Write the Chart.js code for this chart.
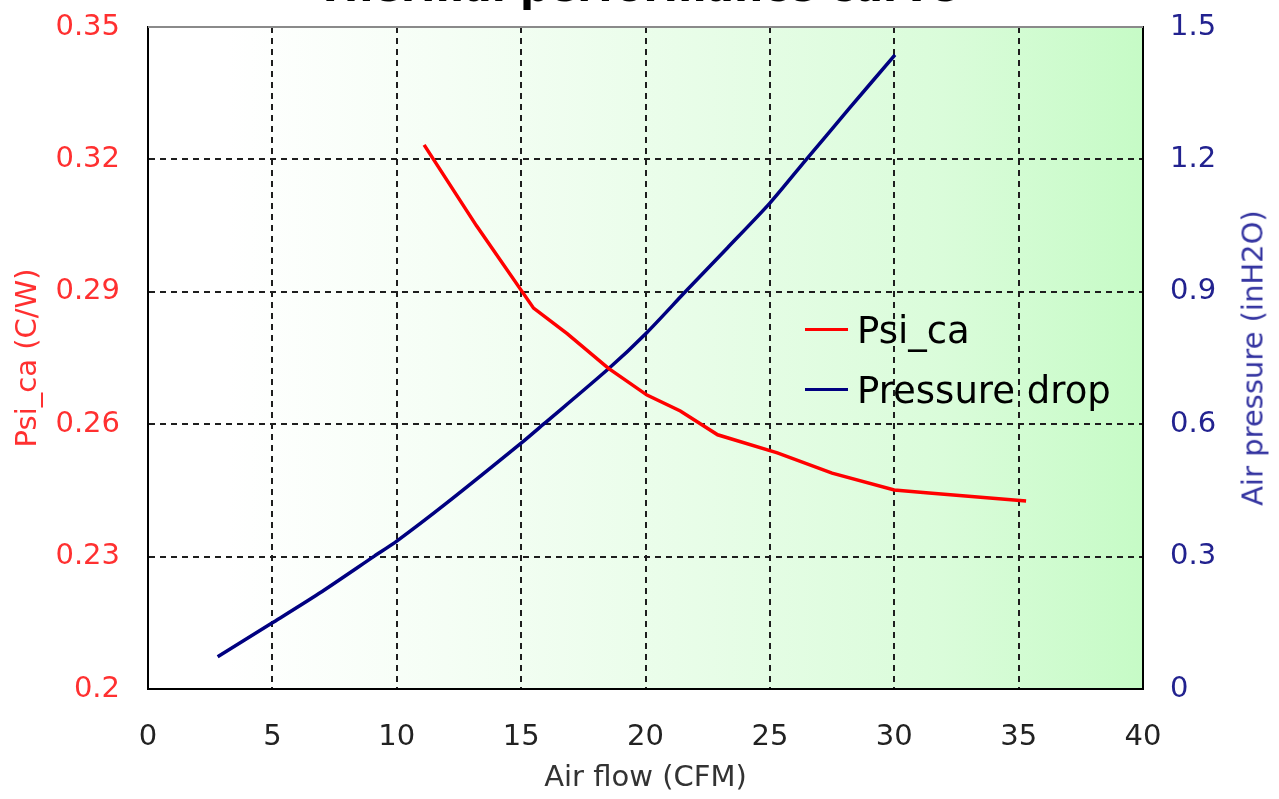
<!DOCTYPE html>
<html><head><meta charset="utf-8">
<script src="https://cdn.jsdelivr.net/npm/chart.js@4.4.1/dist/chart.umd.min.js"></script>
<style>
html,body{margin:0;padding:0;background:#fff;overflow:hidden;}
#wrap{position:relative;width:1279px;height:799px;overflow:hidden;}
#c{position:absolute;left:0;top:0;}
.t{position:absolute;white-space:nowrap;font-family:"DejaVu Sans";line-height:1;}
</style></head><body>
<div id="wrap">
<canvas id="c" width="1279" height="799"></canvas>
<div id="title" class="t"></div>
<div id="legend"></div>
<div id="rtitle" class="t"></div>
</div>
<script>
// ---- data ----
const chartTitle = "Thermal performance curve";
const xTitle = "Air flow (CFM)";
const leftTitle = "Psi_ca (C/W)";
const rightTitle = "Air pressure (inH2O)";
const seriesNames = ["Psi_ca", "Pressure drop"];
const xTickValues = [0, 5, 10, 15, 20, 25, 30, 35, 40];
const psiTickValues = [0.2, 0.23, 0.26, 0.29, 0.32, 0.35];
const pressureTickValues = [0, 0.3, 0.6, 0.9, 1.2, 1.5];
const psiFlow = [11.1, 13.2, 15.5, 16.85, 18.5, 20.06, 21.4, 22.9, 25.3, 27.5, 30.0, 31.4, 35.3];
const psiValues = [0.3233, 0.3050, 0.2863, 0.2805, 0.2727, 0.2666, 0.2630, 0.2576, 0.2535, 0.2489, 0.2451, 0.2444, 0.2426];
const pressureFlow = [2.8, 5.0, 7.0, 9.1, 10.0, 12.0, 15.0, 15.9, 18.5, 20.06, 21.6, 23.3, 25.0, 26.45, 28.2, 30.03];
const pressureValues = [0.073, 0.150, 0.221, 0.301, 0.335, 0.421, 0.557, 0.600, 0.725, 0.808, 0.900, 1.000, 1.101, 1.199, 1.316, 1.437];

// ---- styles ----
const FONT = "DejaVu Sans";
const RED = "#ff0000";
const NAVY = "#000080";
const RED_TEXT = "#ff3030";
const NAVY_TEXT = "#22228f";

const bgPlugin = {
  id: 'bg',
  beforeDraw(chart) {
    const {ctx, chartArea: a} = chart;
    const g = ctx.createLinearGradient(a.left, 0, a.right, 0);
    g.addColorStop(0, '#ffffff');
    g.addColorStop(0.08, '#ffffff');
    g.addColorStop(0.3, '#f5fef5');
    g.addColorStop(0.55, '#e8fde8');
    g.addColorStop(0.8, '#dafcda');
    g.addColorStop(1, '#c6fbc6');
    ctx.save();
    ctx.fillStyle = g;
    ctx.fillRect(a.left, a.top, a.right - a.left, a.bottom - a.top);
    ctx.restore();
  },
  beforeDatasetsDraw(chart) {
    const {ctx, chartArea: a} = chart;
    ctx.save();
    ctx.strokeStyle = '#8a8a8a';
    ctx.lineWidth = 2;
    ctx.beginPath();
    ctx.moveTo(a.left, a.top);
    ctx.lineTo(a.right, a.top);
    ctx.stroke();
    ctx.restore();
  }
};

function edgeColor(vals) {
  return c => (c.tick && (c.tick.value === vals[0] || c.tick.value === vals[vals.length - 1])) ? 'rgba(0,0,0,0)' : '#1e1e1e';
}
function fitY(w) {
  return s => { s.width = w; s.paddingTop = 0; s.paddingBottom = 0; };
}

new Chart(document.getElementById('c'), {
  type: 'scatter',
  data: {
    datasets: [
      {label: seriesNames[0], data: psiFlow.map((x, i) => ({x, y: psiValues[i]})), yAxisID: 'y',
       showLine: true, borderColor: RED, backgroundColor: RED, borderWidth: 3.5, pointRadius: 0, tension: 0},
      {label: seriesNames[1], data: pressureFlow.map((x, i) => ({x, y: pressureValues[i]})), yAxisID: 'y1',
       showLine: true, borderColor: NAVY, backgroundColor: NAVY, borderWidth: 3.5, pointRadius: 0, tension: 0.25}
    ]
  },
  options: {
    responsive: false,
    animation: false,
    layout: {padding: {top: 27, left: 0, right: 0, bottom: 0}},
    plugins: {legend: {display: false}, tooltip: {enabled: false}, title: {display: false}},
    scales: {
      x: {
        type: 'linear', min: 0, max: 40,
        afterBuildTicks: s => { s.ticks = xTickValues.map(v => ({value: v})); },
        afterFit: s => { s.height = 110; },
        grid: {color: edgeColor(xTickValues), lineWidth: 2, drawTicks: false},
        border: {display: true, color: '#000', width: 2, dash: [6, 5]},
        ticks: {padding: 31, color: '#222', font: {family: FONT, size: 29}, maxRotation: 0, autoSkip: false, callback: v => String(v)},
        title: {display: true, text: xTitle, color: '#333', font: {family: FONT, size: 29}, padding: {top: 0, bottom: 3}}
      },
      y: {
        type: 'linear', position: 'left', min: 0.2, max: 0.35,
        afterBuildTicks: s => { s.ticks = psiTickValues.map(v => ({value: v})); },
        afterFit: fitY(148),
        grid: {color: edgeColor(psiTickValues), lineWidth: 2, drawTicks: false},
        border: {display: true, color: '#000', width: 2, dash: [6, 5]},
        ticks: {padding: 28, color: RED_TEXT, font: {family: FONT, size: 29}, autoSkip: false, callback: v => String(v)},
        title: {display: true, text: leftTitle, color: RED_TEXT, font: {family: FONT, size: 29}, padding: {top: 11, bottom: 0}}
      },
      y1: {
        type: 'linear', position: 'right', min: 0, max: 1.5,
        afterBuildTicks: s => { s.ticks = pressureTickValues.map(v => ({value: v})); },
        afterFit: fitY(136),
        grid: {display: false, drawTicks: false},
        border: {display: true, color: '#000', width: 2},
        ticks: {padding: 27, color: NAVY_TEXT, font: {family: FONT, size: 29}, autoSkip: false, callback: v => String(v)},
        title: {display: false}
      }
    }
  },
  plugins: [bgPlugin]
});

// title (mostly cut off at the top, as in the reference)
const t = document.getElementById('title');
t.textContent = chartTitle;
Object.assign(t.style, {left: '0px', width: '1274px', textAlign: 'center', top: '-33px', fontSize: '41px', fontWeight: 'bold', color: '#000'});

// right axis title reading bottom-to-top
const rt = document.getElementById('rtitle');
rt.textContent = rightTitle;
Object.assign(rt.style, {left: '1253px', top: '358px', fontSize: '29px', color: '#3333a0', transform: 'translate(-50%,-50%) rotate(-90deg)'});

// legend inside the plot
const legendColors = [RED, NAVY];
const lg = document.getElementById('legend');
seriesNames.forEach((name, i) => {
  const lineY = 329 + i * 60;
  const ln = document.createElement('div');
  Object.assign(ln.style, {position: 'absolute', left: '805px', top: (lineY - 1.5) + 'px', width: '43px', height: '3px', background: legendColors[i]});
  lg.appendChild(ln);
  const tx = document.createElement('div');
  tx.className = 't';
  tx.textContent = name;
  Object.assign(tx.style, {left: '857px', top: (lineY - 17) + 'px', fontSize: '37px', color: '#000'});
  lg.appendChild(tx);
});
</script>
</body></html>
